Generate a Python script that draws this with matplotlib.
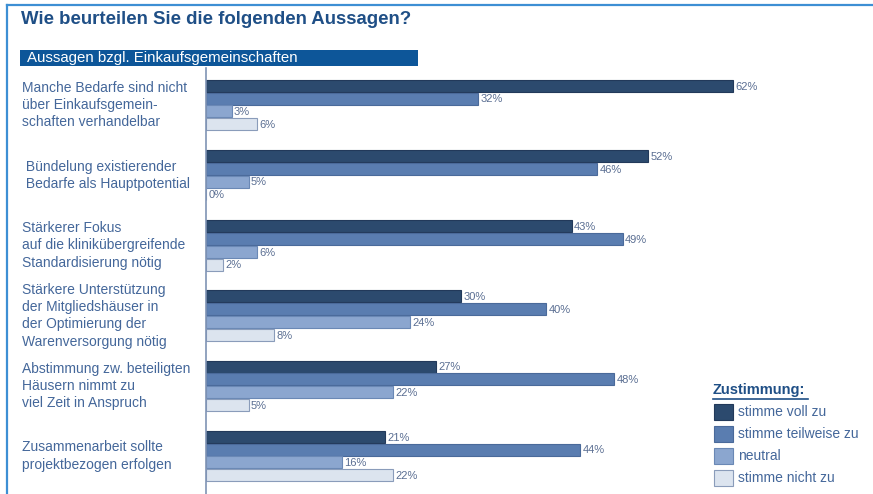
import matplotlib
matplotlib.use("Agg")
import matplotlib.pyplot as plt
from matplotlib.patches import Rectangle
from matplotlib.lines import Line2D
import numpy as np

plt.rcParams['font.family'] = ['Liberation Sans', 'DejaVu Sans']

# data
statements = [
    "Manche Bedarfe sind nicht\nüber Einkaufsgemein-\nschaften verhandelbar",
    " Bündelung existierender\n Bedarfe als Hauptpotential",
    "Stärkerer Fokus\nauf die kliniküberreifende\nStandardisierung nötig".replace("überreifende", "übergreifende"),
    "Stärkere Unterstützung\nder Mitgliedshäuser in\nder Optimierung der\nWarenversorgung nötig",
    "Abstimmung zw. beteiligten\nHäusern nimmt zu\nviel Zeit in Anspruch",
    "Zusammenarbeit sollte\nprojektbezogen erfolgen",
]
series_names = ["stimme voll zu", "stimme teilweise zu", "neutral", "stimme nicht zu"]
voll = [62, 52, 43, 30, 27, 21]
teilweise = [32, 46, 49, 40, 48, 44]
neutral = [3, 5, 6, 24, 22, 16]
nicht = [6, 0, 2, 8, 5, 22]

colors = ["#2c4a6e", "#5a7db0", "#8ba6cf", "#dce4ef"]
edges = ["#22395a", "#4a6a9a", "#6a88b5", "#8a9cba"]
label_col = "#44679a"
value_col = "#5a6e92"

W, H = 873, 494
fig = plt.figure(figsize=(W / 100, H / 100), dpi=100)

def fx(px):
    return px / W

def fy(py):
    return 1 - py / H

# frame lines
fig.add_artist(Line2D([fx(7), fx(7)], [fy(5), 0], color="#3d8fd4", lw=1.6))
fig.add_artist(Line2D([fx(7), 1], [fy(5), fy(5)], color="#3d8fd4", lw=1.6))

fig.text(fx(21), fy(19), "Wie beurteilen Sie die folgenden Aussagen?",
         fontsize=13.4, fontweight="bold", color="#1f4f86", va="center")

fig.add_artist(Rectangle((fx(20), fy(66)), fx(398), fy(50) - fy(66),
                         facecolor="#0d5699", edgecolor="none"))
fig.text(fx(27), fy(58), "Aussagen bzgl. Einkaufsgemeinschaften",
         fontsize=10.8, color="white", va="center")

ax_left, ax_top = 206, 68
ax = fig.add_axes([fx(ax_left), 0, 1 - fx(ax_left), fy(ax_top)])

spacing = 70.2
bh = 12.8 / spacing
n = len(statements)
y = np.arange(n)
all_vals = [voll, teilweise, neutral, nicht]
for k, vals in enumerate(all_vals):
    ypos = y - 1.5 * bh + k * bh
    ax.barh(ypos, vals, height=bh * 0.95, color=colors[k], edgecolor=edges[k], linewidth=0.8)
    for yy, v in zip(ypos, vals):
        ax.text(v + 0.3, yy + 0.01, f"{v}%", fontsize=8, color=value_col, va="center", ha="left")

px_per_pct = 8.5
ax.set_xlim(0, (W - ax_left) / px_per_pct)
ax.set_ylim(n - 1 + (494 - 456) / spacing, -(105 - 68) / spacing)
for s in ["top", "right", "bottom"]:
    ax.spines[s].set_visible(False)
ax.spines["left"].set_color("#7f93b4")
ax.spines["left"].set_linewidth(1.2)
ax.set_xticks([])
ax.set_yticks([])
ax.patch.set_alpha(0)

# category labels
for i, s in enumerate(statements):
    yc = 105 + i * spacing
    fig.text(fx(22), fy(yc), s, fontsize=10, color=label_col, va="center", ha="left",
             linespacing=1.3)

# legend
fig.text(fx(713), fy(390), "Zustimmung:", fontsize=10.5, fontweight="bold",
         color="#1f4f86", va="center", ha="left")
fig.add_artist(Line2D([fx(713), fx(808)], [fy(399), fy(399)], color="#1f4f86", lw=1.2))
for k, name in enumerate(series_names):
    yc = 412 + k * 22
    fig.add_artist(Rectangle((fx(714), fy(yc + 8)), fx(19), fy(yc - 8) - fy(yc + 8),
                             facecolor=colors[k], edgecolor=edges[k], lw=0.8))
    fig.text(fx(738), fy(yc), name, fontsize=10, color=label_col, va="center", ha="left")

fig.savefig("out.png", dpi=100, facecolor="white")
